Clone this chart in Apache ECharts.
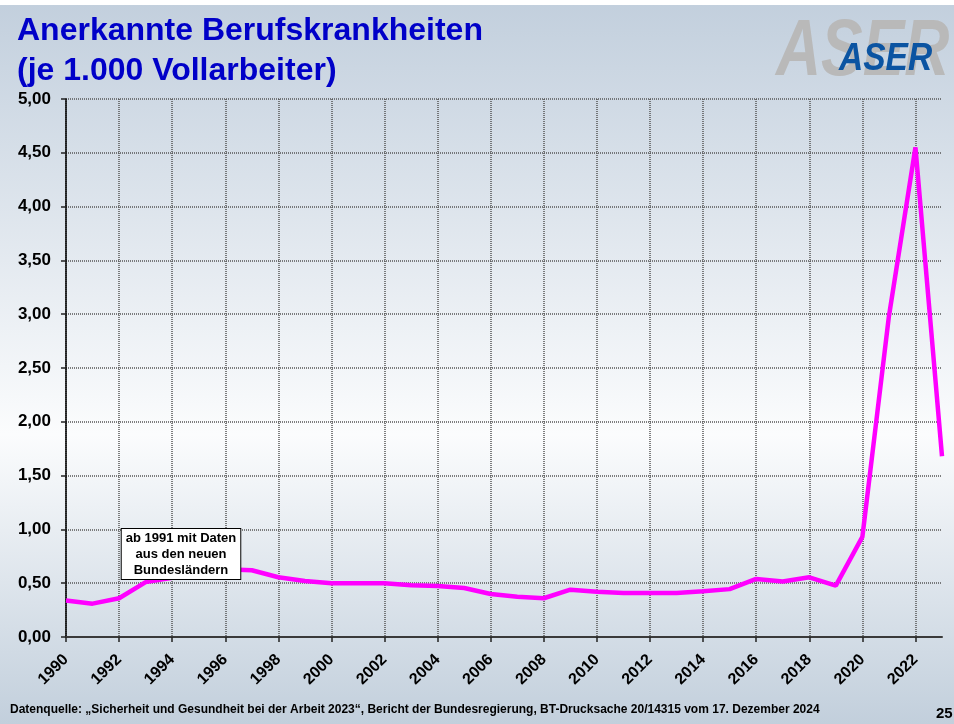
<!DOCTYPE html>
<html>
<head>
<meta charset="utf-8">
<script src="https://cdn.jsdelivr.net/npm/echarts@6/dist/echarts.min.js"></script>
<style>
  html, body { margin: 0; padding: 0; background: #fff; }
  #chart { width: 954px; height: 724px; }
</style>
</head>
<body>
<div id="chart"></div>
<script>
// Jahre (Kategorien)
const years = ['1990','1991','1992','1993','1994','1995','1996','1997','1998','1999',
  '2000','2001','2002','2003','2004','2005','2006','2007','2008','2009',
  '2010','2011','2012','2013','2014','2015','2016','2017','2018','2019',
  '2020','2021','2022','2023']
// anerkannte Berufskrankheiten je 1.000 Vollarbeiter
const rates = [0.34, 0.31, 0.36, 0.51, 0.55, 0.58, 0.63, 0.62, 0.555, 0.52,
  0.50, 0.50, 0.50, 0.48, 0.475, 0.455, 0.40, 0.375, 0.36, 0.44,
  0.42, 0.41, 0.41, 0.41, 0.425, 0.445, 0.54, 0.515, 0.555, 0.477,
  0.93, 2.98, 4.55, 1.68]
const yMin = 0
const yMax = 5
const yStep = 0.5

const titleText = 'Anerkannte Berufskrankheiten\n(je 1.000 Vollarbeiter)'
const noteText = 'ab 1991 mit Daten\naus den neuen\nBundesländern'
const sourceText = 'Datenquelle: \u201eSicherheit und Gesundheit bei der Arbeit 2023\u201c, Bericht der Bundesregierung, BT-Drucksache 20/14315 vom 17. Dezember 2024'

const font = '"Liberation Sans", Arial, sans-serif'

let myChart = echarts.init(document.getElementById('chart'), null, { renderer: 'canvas' })

myChart.setOption({
  animation: false,
  title: {
    text: titleText,
    left: 12,
    top: 6,
    textStyle: {
      fontFamily: font,
      fontSize: 32,
      fontWeight: 'bold',
      color: '#0000c8',
      lineHeight: 40
    }
  },
  graphic: [
    // Hintergrund-Verlauf
    {
      type: 'rect',
      z: -100,
      silent: true,
      shape: { x: 0, y: 0, width: 954, height: 724 },
      style: {
        fill: new echarts.graphic.LinearGradient(0, 0, 0, 1, [
          { offset: 0, color: '#c2cfdd' },
          { offset: 0.6, color: '#fbfcfd' },
          { offset: 1, color: '#c2cfdc' }
        ])
      }
    },
    {
      type: 'rect',
      z: -99,
      silent: true,
      shape: { x: 0, y: 0, width: 954, height: 5 },
      style: { fill: '#ffffff' }
    },
    // Logo
    {
      type: 'text',
      z: -50,
      x: 776,
      y: 13,
      scaleX: 0.78,
      style: {
        text: 'ASER',
        font: 'italic bold 80px ' + font,
        fill: '#b9b9b9'
      }
    },
    {
      type: 'text',
      z: -40,
      x: 839,
      y: 40,
      scaleX: 0.86,
      style: {
        text: 'ASER',
        font: 'italic bold 39px ' + font,
        fill: '#0b54a2'
      }
    },
    // Hinweis-Kasten
    {
      type: 'text',
      z: 100,
      x: 181,
      y: 554,
      style: {
        text: noteText,
        font: 'bold 13px ' + font,
        fill: '#000',
        align: 'center',
        verticalAlign: 'middle',
        lineHeight: 16,
        backgroundColor: '#ffffff',
        borderColor: '#000000',
        borderWidth: 1,
        padding: [1, 4, 1, 4]
      }
    },
    // Quelle
    {
      type: 'text',
      x: 10,
      y: 704,
      style: {
        text: sourceText,
        font: 'bold 12px ' + font,
        fill: '#000'
      }
    },
    {
      type: 'text',
      x: 936,
      y: 706,
      style: {
        text: '25',
        font: 'bold 15px ' + font,
        fill: '#000'
      }
    }
  ],
  grid: {
    left: 66,
    right: 12,
    top: 99,
    bottom: 87,
    containLabel: false
  },
  xAxis: {
    type: 'category',
    data: years,
    boundaryGap: false,
    axisLine: {
      show: true,
      lineStyle: { color: '#3a3a3a', width: 2 }
    },
    axisTick: {
      show: true,
      interval: 1,
      length: 5,
      lineStyle: { color: '#222', width: 1.5 }
    },
    axisLabel: {
      interval: 1,
      rotate: 45,
      margin: 20,
      fontFamily: font,
      fontSize: 16,
      fontWeight: 'bold',
      color: '#000'
    },
    splitLine: {
      show: true,
      interval: 1,
      lineStyle: { color: '#555', width: 1.5, type: [1, 1] }
    }
  },
  yAxis: {
    type: 'value',
    min: yMin,
    max: yMax,
    interval: yStep,
    axisLine: {
      show: true,
      lineStyle: { color: '#000', width: 1.5 }
    },
    axisTick: {
      show: true,
      length: 5,
      lineStyle: { color: '#222', width: 1.5 }
    },
    axisLabel: {
      margin: 15,
      fontFamily: font,
      fontSize: 17,
      fontWeight: 'bold',
      color: '#000',
      formatter: function(v) {
        return v.toFixed(2).replace('.', ',')
      }
    },
    splitLine: {
      show: true,
      lineStyle: { color: '#555', width: 1.5, type: [1, 1] }
    }
  },
  series: [
    {
      name: 'Berufskrankheiten',
      type: 'line',
      data: rates,
      symbol: 'none',
      lineStyle: { color: '#ff00ff', width: 4.5 },
      z: 10
    }
  ]
})
</script>
</body>
</html>
